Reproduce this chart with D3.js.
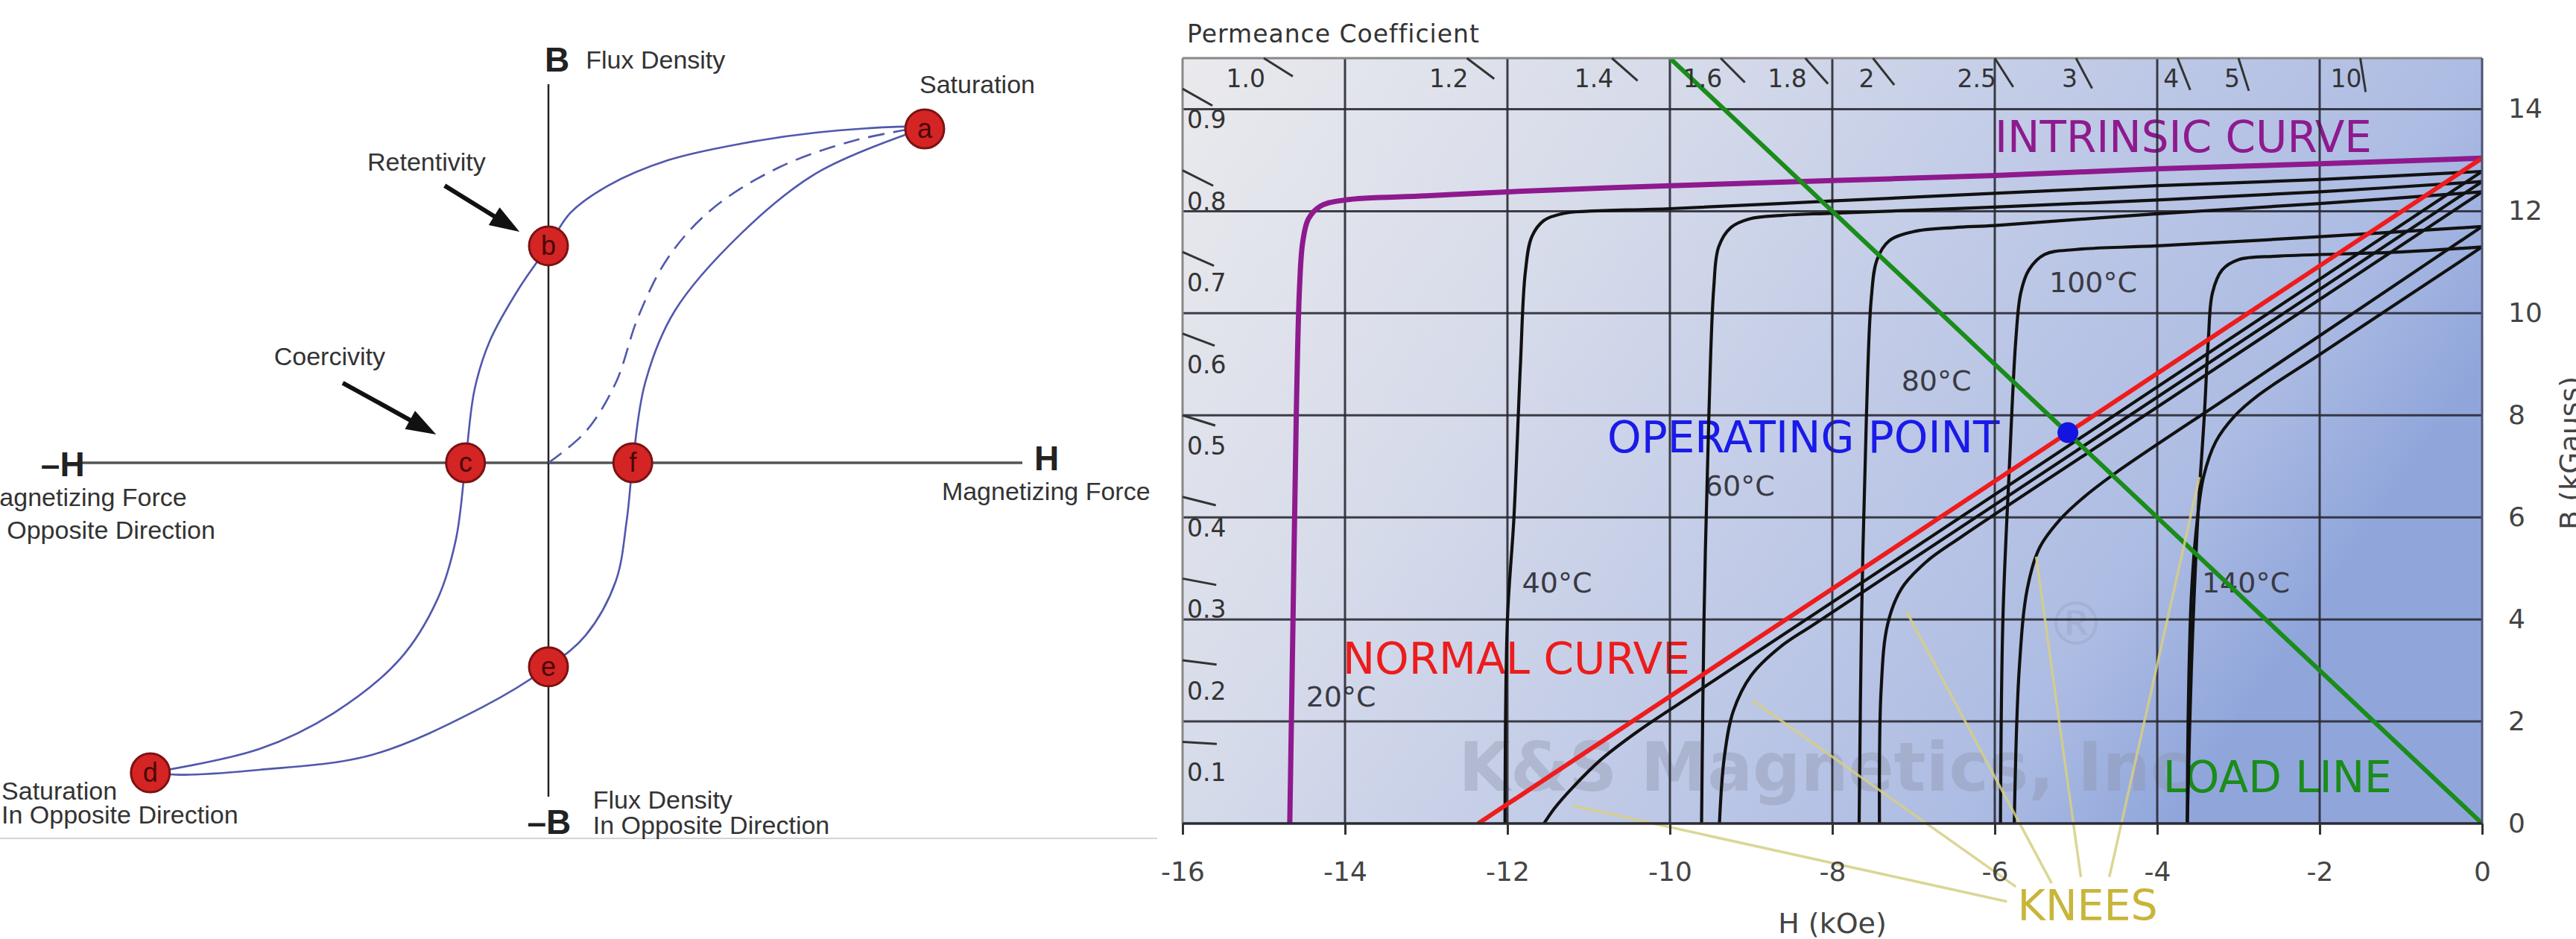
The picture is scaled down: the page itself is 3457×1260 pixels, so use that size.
<!DOCTYPE html>
<html>
<head>
<meta charset="utf-8">
<script src="https://cdn.jsdelivr.net/npm/d3@7"></script>
<style>
  body { margin: 0; background: #fff; overflow: hidden; }
  svg { display: block; }
</style>
</head>
<body>
<script>
// ---------- left: hysteresis loop (schematic units, H and B in -1..1) ----------
const loopDown = [
  [0.794, 0.885], [0.752, 0.888], [0.564, 0.872], [0.407, 0.843], [0.252, 0.799],
  [0.126, 0.732], [0.047, 0.661], [0, 0.573], [-0.061, 0.463], [-0.124, 0.321],
  [-0.156, 0.193], [-0.175, 0], [-0.195, -0.201], [-0.234, -0.360], [-0.313, -0.518],
  [-0.453, -0.661], [-0.610, -0.756], [-0.840, -0.819]
];
const loopUp = [
  [-0.840, -0.819], [-0.78, -0.824], [-0.610, -0.811], [-0.374, -0.772], [-0.140, -0.646],
  [0, -0.539], [0.079, -0.455], [0.142, -0.313], [0.165, -0.154], [0.178, 0],
  [0.204, 0.211], [0.266, 0.400], [0.407, 0.606], [0.564, 0.764], [0.752, 0.866], [0.794, 0.882]
];
const initialCurve = [
  [0, 0], [0.079, 0.083], [0.142, 0.211], [0.189, 0.384], [0.252, 0.541],
  [0.344, 0.669], [0.486, 0.780], [0.642, 0.850], [0.767, 0.882]
];
const pointNames = ['a', 'b', 'c', 'd', 'e', 'f'];
const pointH = [0.794, 0, -0.175, -0.840, 0, 0.178];
const pointB = [0.882, 0.573, 0, -0.819, -0.539, 0];

// ---------- right: demagnetization curves (H in kOe, B in kGauss) ----------
const hTicks = [-16, -14, -12, -10, -8, -6, -4, -2, 0];
const bTicks = [0, 2, 4, 6, 8, 10, 12, 14];
const pcTop = [1.0, 1.2, 1.4, 1.6, 1.8, 2, 2.5, 3, 4, 5, 10];
const pcTopLabels = ['1.0', '1.2', '1.4', '1.6', '1.8', '2', '2.5', '3', '4', '5', '10'];
const pcLeft = [0.9, 0.8, 0.7, 0.6, 0.5, 0.4, 0.3, 0.2, 0.1];

const intrinsic20 = [[-14.68, 0], [-14.64, 4], [-14.6, 8], [-14.56, 10.5], [-14.52, 11.4], [-14.45, 11.85],
  [-14.3, 12.1], [-14.0, 12.22], [-13, 12.3], [-12, 12.38], [-10, 12.5], [-8, 12.6], [-6, 12.7],
  [-4, 12.83], [-2, 12.93], [0, 13.04]];
const normal20 = [[-12.36, 0], [0, 13.04]];
const loadLine = [[-10, 15], [0, 0]];
const operatingPoint = [-5.1, 7.66];

const intrinsic40 = [[-12.03, 0], [-12.0, 4], [-11.92, 6], [-11.84, 9], [-11.78, 10.8], [-11.7, 11.5],
  [-11.55, 11.82], [-11.3, 11.96], [-11, 12.0], [-10, 12.05], [-8, 12.2], [-6, 12.35], [-4, 12.5],
  [-2, 12.62], [0, 12.78]];
const intrinsic60 = [[-9.61, 0], [-9.58, 4], [-9.52, 8], [-9.46, 10.5], [-9.4, 11.3], [-9.25, 11.68],
  [-9.02, 11.85], [-8.6, 11.92], [-8, 11.96], [-6, 12.08], [-4, 12.22], [-2, 12.38], [0, 12.58]];
const intrinsic80 = [[-7.67, 0], [-7.64, 4], [-7.58, 8], [-7.52, 10.3], [-7.45, 11.05], [-7.3, 11.42],
  [-7.0, 11.6], [-6.5, 11.68], [-6, 11.72], [-4, 11.95], [-2, 12.15], [0, 12.38]];
const intrinsic100 = [[-5.93, 0], [-5.9, 4], [-5.82, 7], [-5.74, 9.5], [-5.68, 10.4], [-5.58, 10.85],
  [-5.39, 11.15], [-5.0, 11.25], [-4, 11.32], [-2, 11.5], [0, 11.7]];
const intrinsic140 = [[-3.63, 0], [-3.58, 3], [-3.5, 6], [-3.42, 8], [-3.37, 9.5], [-3.32, 10.4],
  [-3.2, 10.85], [-3.0, 11.05], [-2.5, 11.12], [-1, 11.2], [0, 11.3]];

const normal40 = [[0, 12.78], [-5, 7.5], [-9.8, 2.44], [-10.4, 1.8], [-10.85, 1.25], [-11.2, 0.7],
  [-11.42, 0.3], [-11.55, 0]];
const normal60 = [[0, 12.58], [-5, 7.3], [-8.2, 3.93], [-8.65, 3.45], [-9.0, 2.9], [-9.22, 2.2],
  [-9.33, 1.3], [-9.39, 0]];
const normal80 = [[0, 12.38], [-4, 8.16], [-6.4, 5.63], [-6.85, 5.12], [-7.15, 4.6], [-7.32, 3.9],
  [-7.4, 2.6], [-7.42, 0]];
const normal100 = [[0, 11.7], [-3, 8.49], [-4.5, 6.885], [-4.9, 6.4], [-5.2, 5.95], [-5.45, 5.4],
  [-5.6, 4.6], [-5.7, 3], [-5.76, 0]];
const normal140 = [[0, 11.3], [-2, 9.19], [-2.75, 8.4], [-3.05, 7.98], [-3.28, 7.48], [-3.43, 6.79],
  [-3.51, 5.9], [-3.58, 4.45], [-3.62, 2], [-3.63, 0]];

const tempNames = ['20°C', '40°C', '60°C', '80°C', '100°C', '140°C'];
const kneePoints = [[-11.2, 0.35], [-8.98, 2.41], [-7.09, 4.16], [-5.49, 5.23], [-3.48, 6.79]];
const kneeLabelEnds = [[-5.85, -1.53], [-5.74, -1.24], [-5.30, -1.17], [-4.94, -1.05], [-4.59, -1.05]];

// ---------- svg ----------
const width = 3457;
const height = 1260;

const svg = d3.select('body')
  .append('svg')
    .attr('width', width)
    .attr('height', height);

const defs = svg.append('defs');

// =====================================================================
// left panel
// =====================================================================
const hx = d3.scaleLinear().domain([-1, 1]).range([100, 1372]);
const hy = d3.scaleLinear().domain([-1, 1]).range([1129, 113]);

const left = svg.append('g')
  .attr('font-family', '"Liberation Sans", Arial, sans-serif')
  .attr('fill', '#333');

left.append('line')
  .attr('x1', 0).attr('x2', 1553)
  .attr('y1', hy(-0.992)).attr('y2', hy(-0.992))
  .attr('stroke', '#d4d4d4').attr('stroke-width', 2);

// axes
left.append('line')
  .attr('x1', hx(-0.995)).attr('x2', hx(1))
  .attr('y1', hy(0)).attr('y2', hy(0))
  .attr('stroke', '#555').attr('stroke-width', 3.5);
left.append('line')
  .attr('x1', hx(0)).attr('x2', hx(0))
  .attr('y1', hy(1)).attr('y2', hy(-0.882))
  .attr('stroke', '#222').attr('stroke-width', 2.5);

const loopLine = d3.line()
  .x(d => hx(d[0]))
  .y(d => hy(d[1]))
  .curve(d3.curveCatmullRom.alpha(0.5));

[loopDown, loopUp].forEach(pts => {
  left.append('path')
    .attr('d', loopLine(pts))
    .attr('fill', 'none')
    .attr('stroke', '#5058ad')
    .attr('stroke-width', 2.6);
});
left.append('path')
  .attr('d', loopLine(initialCurve))
  .attr('fill', 'none')
  .attr('stroke', '#5058ad')
  .attr('stroke-width', 2.6)
  .attr('stroke-dasharray', '22,12');

// arrows
const arrows = [
  { from: [-0.219, 0.732], to: [-0.061, 0.610] },
  { from: [-0.434, 0.211], to: [-0.237, 0.075] }
];
arrows.forEach(a => {
  const x0 = hx(a.from[0]), y0 = hy(a.from[1]);
  const x1 = hx(a.to[0]), y1 = hy(a.to[1]);
  const len = Math.hypot(x1 - x0, y1 - y0);
  const ux = (x1 - x0) / len, uy = (y1 - y0) / len;
  const head = 40, half = 14;
  const bx = x1 - ux * head, by = y1 - uy * head;
  left.append('line')
    .attr('x1', x0).attr('y1', y0).attr('x2', bx + ux * 4).attr('y2', by + uy * 4)
    .attr('stroke', '#111').attr('stroke-width', 6);
  left.append('path')
    .attr('d', `M${x1},${y1}L${bx - uy * half},${by + ux * half}L${bx + uy * half},${by - ux * half}Z`)
    .attr('fill', '#111');
});

// points
const pts = left.selectAll('.pt')
  .data(pointNames.map((n, i) => ({ name: n, h: pointH[i], b: pointB[i] })))
  .enter()
  .append('g')
    .attr('class', 'pt')
    .attr('transform', d => `translate(${hx(d.h)}, ${hy(d.b)})`);
pts.append('circle')
  .attr('r', 26)
  .attr('fill', '#d42424')
  .attr('stroke', '#7c1212')
  .attr('stroke-width', 3);
pts.append('text')
  .attr('text-anchor', 'middle')
  .attr('dy', '0.33em')
  .attr('font-size', 36)
  .attr('fill', '#4a0808')
  .text(d => d.name);

// labels
const leftLabels = [
  { t: 'Flux Density', h: 0.079, b: 1.041 },
  { t: 'Saturation', h: 0.783, b: 0.976 },
  { t: 'Retentivity', h: -0.382, b: 0.772 },
  { t: 'Coercivity', h: -0.579, b: 0.258 },
  { t: 'Magnetizing Force', h: 0.830, b: -0.098 },
  { t: 'Saturation', h: -1.154, b: -0.890 },
  { t: 'In Opposite Direction', h: -1.154, b: -0.953 },
  { t: 'Flux Density', h: 0.094, b: -0.913 },
  { t: 'In Opposite Direction', h: 0.094, b: -0.980 }
];
left.selectAll('.lbl')
  .data(leftLabels)
  .enter()
  .append('text')
    .attr('class', 'lbl')
    .attr('x', d => hx(d.h))
    .attr('y', d => hy(d.b))
    .attr('font-size', 34)
    .text(d => d.t);

// labels that run off the left edge, as in the source picture
const clippedLabels = [
  { t: 'Magnetizing Force', h: -0.763, b: -0.114 },
  { t: 'In Opposite Direction', h: -0.703, b: -0.201 }
];
left.selectAll('.clbl')
  .data(clippedLabels)
  .enter()
  .append('text')
    .attr('class', 'clbl')
    .attr('x', d => hx(d.h))
    .attr('y', d => hy(d.b))
    .attr('text-anchor', 'end')
    .attr('font-size', 34)
    .text(d => d.t);

const axisLetters = [
  { t: 'B', h: -0.008, b: 1.033 },
  { t: '\u2013H', h: -1.071, b: -0.035 },
  { t: 'H', h: 1.025, b: -0.020 },
  { t: '\u2013B', h: -0.045, b: -0.980 }
];
left.selectAll('.axl')
  .data(axisLetters)
  .enter()
  .append('text')
    .attr('class', 'axl')
    .attr('x', d => hx(d.h))
    .attr('y', d => hy(d.b))
    .attr('font-size', 46)
    .attr('font-weight', 'bold')
    .attr('fill', '#222')
    .text(d => d.t);

// =====================================================================
// right panel
// =====================================================================
const x = d3.scaleLinear().domain([-16, 0]).range([1587, 3331]);
const y = d3.scaleLinear().domain([0, 15]).range([1105, 78]);

const grad = defs.append('linearGradient')
  .attr('id', 'bg')
  .attr('x1', 0).attr('y1', 0).attr('x2', 1).attr('y2', 0.4);
[[0, '#eaeaed'], [0.34, '#d6dbea'], [0.6, '#c1cbe7'], [0.86, '#adbce3'], [1, '#90a6db']]
  .forEach(s => grad.append('stop').attr('offset', s[0]).attr('stop-color', s[1]));

defs.append('clipPath')
  .attr('id', 'plot-clip')
  .append('rect')
    .attr('x', x(-16)).attr('y', y(15))
    .attr('width', x(0) - x(-16)).attr('height', y(0) - y(15));

const right = svg.append('g')
  .attr('font-family', '"DejaVu Sans", Verdana, sans-serif');

right.append('rect')
  .attr('x', x(-16)).attr('y', y(15))
  .attr('width', x(0) - x(-16)).attr('height', y(0) - y(15))
  .attr('fill', 'url(#bg)');

// watermark
right.append('text')
  .attr('x', x(-8.1)).attr('y', y(0.64))
  .attr('text-anchor', 'middle')
  .attr('font-size', 90)
  .attr('font-weight', 'bold')
  .attr('fill', '#8a90a6')
  .attr('fill-opacity', 0.36)
  .text('K&S Magnetics, Inc');
right.append('text')
  .attr('x', x(-5.0)).attr('y', y(3.5))
  .attr('text-anchor', 'middle')
  .attr('font-size', 80)
  .attr('fill', '#8a90a6')
  .attr('fill-opacity', 0.25)
  .text('®');

// curve names and temperatures (under the lines)
const curveLabels = [
  { t: 'INTRINSIC CURVE', h: -6.0, b: 13.16, c: '#8e1a8e' },
  { t: 'NORMAL CURVE', h: -14.03, b: 2.94, c: '#ec1c1c' },
  { t: 'OPERATING POINT', h: -10.77, b: 7.27, c: '#1a1ae8' },
  { t: 'LOAD LINE', h: -3.93, b: 0.61, c: '#1a8c1a' }
];
right.selectAll('.clab')
  .data(curveLabels)
  .enter()
  .append('text')
    .attr('class', 'clab')
    .attr('x', d => x(d.h))
    .attr('y', d => y(d.b))
    .attr('font-size', 58)
    .attr('fill', d => d.c)
    .text(d => d.t);

const tempPos = [[-14.48, 2.3], [-11.82, 4.53], [-9.57, 6.43], [-7.15, 8.49], [-5.33, 10.41], [-3.45, 4.53]];
right.selectAll('.tlab')
  .data(tempNames)
  .enter()
  .append('text')
    .attr('class', 'tlab')
    .attr('x', (d, i) => x(tempPos[i][0]))
    .attr('y', (d, i) => y(tempPos[i][1]))
    .attr('font-size', 38)
    .attr('fill', '#3a3a44')
    .text(d => d);

// grid
const grid = right.append('g')
  .attr('stroke', '#2a2a33')
  .attr('stroke-width', 3)
  .attr('stroke-opacity', 0.9);
grid.selectAll('.vg')
  .data(hTicks.slice(1, -1))
  .enter()
  .append('line')
    .attr('x1', d => x(d)).attr('x2', d => x(d))
    .attr('y1', y(0)).attr('y2', y(15));
grid.selectAll('.hg')
  .data(bTicks.slice(1))
  .enter()
  .append('line')
    .attr('x1', x(-16)).attr('x2', x(0))
    .attr('y1', d => y(d)).attr('y2', d => y(d));

// curves
const curveLine = d3.line()
  .x(d => x(d[0]))
  .y(d => y(d[1]))
  .curve(d3.curveCatmullRom.alpha(0.5));

const curves = right.append('g').attr('clip-path', 'url(#plot-clip)').attr('fill', 'none');

[intrinsic40, intrinsic60, intrinsic80, intrinsic100, intrinsic140,
  normal40, normal60, normal80, normal100, normal140].forEach(c => {
  curves.append('path')
    .attr('d', curveLine(c))
    .attr('stroke', '#111')
    .attr('stroke-width', 4.2);
});

curves.append('path')
  .attr('d', curveLine(intrinsic20))
  .attr('stroke', '#8e1a8e')
  .attr('stroke-width', 7);
curves.append('path')
  .attr('d', curveLine(normal20))
  .attr('stroke', '#ee1c1c')
  .attr('stroke-width', 6);
curves.append('path')
  .attr('d', curveLine(loadLine))
  .attr('stroke', '#1a8c1a')
  .attr('stroke-width', 6);

// knee pointers
right.selectAll('.knee')
  .data(kneePoints)
  .enter()
  .append('line')
    .attr('class', 'knee')
    .attr('x1', d => x(d[0])).attr('y1', d => y(d[1]))
    .attr('x2', (d, i) => x(kneeLabelEnds[i][0])).attr('y2', (d, i) => y(kneeLabelEnds[i][1]))
    .attr('stroke', '#d6cf84')
    .attr('stroke-width', 3.5)
    .attr('stroke-opacity', 0.85);
right.append('text')
  .attr('x', x(-5.72)).attr('y', y(-1.9))
  .attr('font-size', 57)
  .attr('fill', '#c8b53a')
  .text('KNEES');

// operating point
right.append('circle')
  .attr('cx', x(operatingPoint[0]))
  .attr('cy', y(operatingPoint[1]))
  .attr('r', 14)
  .attr('fill', '#1414e0');

// frame
right.append('line')
  .attr('x1', x(-16)).attr('x2', x(0)).attr('y1', y(15)).attr('y2', y(15))
  .attr('stroke', '#888').attr('stroke-width', 3);
right.append('line')
  .attr('x1', x(-16)).attr('x2', x(-16)).attr('y1', y(15)).attr('y2', y(0))
  .attr('stroke', '#888').attr('stroke-width', 3);
right.append('line')
  .attr('x1', x(0)).attr('x2', x(0)).attr('y1', y(15)).attr('y2', y(0))
  .attr('stroke', '#4c5272').attr('stroke-width', 3);
right.append('line')
  .attr('x1', x(-16)).attr('x2', x(0)).attr('y1', y(0)).attr('y2', y(0))
  .attr('stroke', '#2a2a33').attr('stroke-width', 3.5);

// axes
const xAxis = d3.axisBottom(x)
  .tickValues(hTicks)
  .tickSize(15)
  .tickPadding(36)
  .tickFormat(d => String(d));
const gx = right.append('g')
  .attr('transform', `translate(0, ${y(0)})`)
  .call(xAxis);
gx.select('.domain').remove();
gx.attr('font-size', 36).attr('font-family', '"DejaVu Sans", Verdana, sans-serif');
gx.selectAll('line').attr('stroke', '#333').attr('stroke-width', 3);
gx.selectAll('text').attr('fill', '#444');

const yAxis = d3.axisRight(y)
  .tickValues(bTicks)
  .tickSize(0)
  .tickPadding(35);
const gy = right.append('g')
  .attr('transform', `translate(${x(0)}, 0)`)
  .call(yAxis);
gy.select('.domain').remove();
gy.attr('font-size', 36).attr('font-family', '"DejaVu Sans", Verdana, sans-serif');
gy.selectAll('text').attr('fill', '#444');

right.append('text')
  .attr('x', x(-8)).attr('y', y(-2.15))
  .attr('text-anchor', 'middle')
  .attr('font-size', 38)
  .attr('fill', '#444')
  .text('H (kOe)');

// axis title runs off the right edge, as in the source picture
right.append('text')
  .attr('transform', `translate(3462, ${y(7.26)}) rotate(-90)`)
  .attr('text-anchor', 'middle')
  .attr('font-size', 38)
  .attr('fill', '#444')
  .text('B (kGauss)');

right.append('text')
  .attr('x', x(-16) + 6).attr('y', 57)
  .attr('font-size', 33)
  .attr('letter-spacing', 1)
  .attr('fill', '#333')
  .text('Permeance Coefficient');

// permeance coefficient scale: short marks along each load-line direction
const pcMark = (h0, b0) => {
  const x0 = x(h0), y0 = y(b0);
  const dx = x(0) - x0, dy = y(0) - y0;
  const len = Math.hypot(dx, dy);
  return [x0, y0, x0 + dx / len * 46, y0 + dy / len * 46];
};

const pcg = right.append('g').attr('fill', '#333');
pcTop.forEach((pc, i) => {
  const m = pcMark(-15 / pc, 15);
  pcg.append('line')
    .attr('x1', m[0]).attr('y1', m[1]).attr('x2', m[2]).attr('y2', m[3])
    .attr('stroke', '#333').attr('stroke-width', 3);
  pcg.append('text')
    .attr('x', m[0] + 2).attr('y', y(15) + 39)
    .attr('text-anchor', 'end')
    .attr('font-size', 33)
    .text(pcTopLabels[i]);
});
pcLeft.forEach(pc => {
  const m = pcMark(-16, 16 * pc);
  pcg.append('line')
    .attr('x1', m[0]).attr('y1', m[1]).attr('x2', m[2]).attr('y2', m[3])
    .attr('stroke', '#333').attr('stroke-width', 3);
  pcg.append('text')
    .attr('x', x(-16) + 6).attr('y', m[1] + 53)
    .attr('font-size', 33)
    .text(pc.toFixed(1));
});
</script>
</body>
</html>
